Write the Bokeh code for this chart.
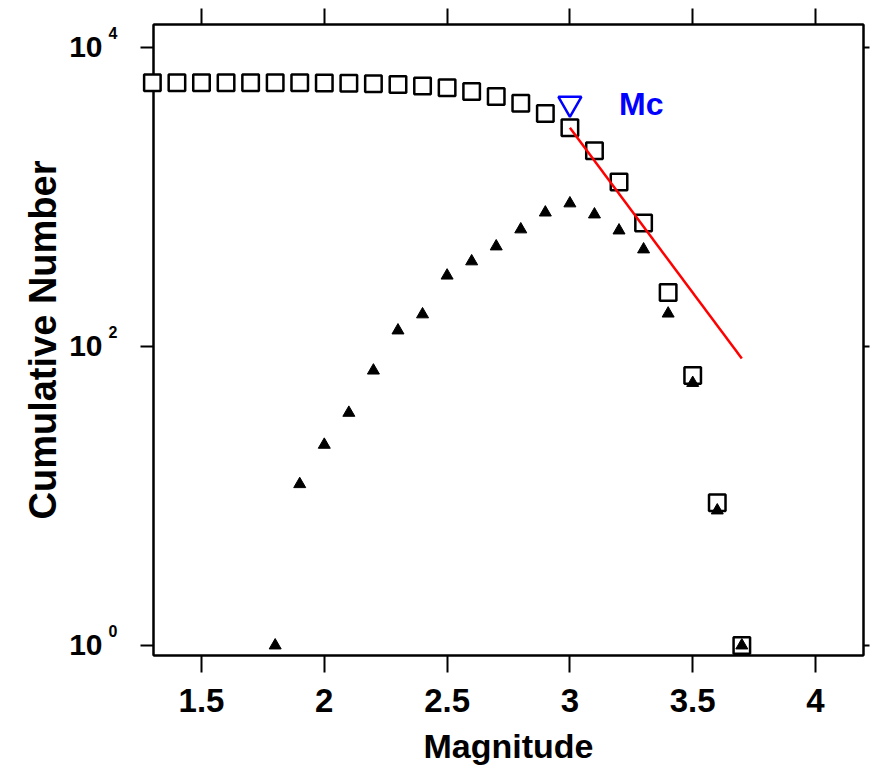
import math
from bokeh.plotting import figure
from bokeh.models import (LinearAxis, LogAxis, FixedTicker,
                          CustomLabelingPolicy)
from bokeh.core.properties import value
from bokeh.embed import file_html
from bokeh.resources import INLINE

# ---- data ----
magnitude = [1.3, 1.4, 1.5, 1.6, 1.7, 1.8, 1.9, 2.0, 2.1, 2.2, 2.3, 2.4, 2.5,
             2.6, 2.7, 2.8, 2.9, 3.0, 3.1, 3.2, 3.3, 3.4, 3.5, 3.6, 3.7]
cumulative = [5800, 5800, 5800, 5800, 5800, 5800, 5800, 5790, 5770, 5730, 5660,
              5530, 5370, 5070, 4700, 4230, 3620, 2900, 2040, 1260, 670, 230,
              64, 9, 1]
mag_noncum = [1.8, 1.9, 2.0, 2.1, 2.2, 2.3, 2.4, 2.5, 2.6, 2.7, 2.8, 2.9, 3.0,
              3.1, 3.2, 3.3, 3.4, 3.5, 3.6, 3.7]
noncum = [1, 12, 22, 36, 69, 128, 164, 298, 371, 467, 607, 787, 906, 764, 597,
          446, 166, 57, 8, 1]
fit_mag = [3.0, 3.7]
fit_n = [2900, 83]
mc_mag = [3.0]
mc_n = [4220]
mc_text = "Mc"
mc_text_mag = 3.2

x_ticks = [1.5, 2.0, 2.5, 3.0, 3.5, 4.0]
x_tick_labels = ["1.5", "2", "2.5", "3", "3.5", "4"]
y_ticks = [1, 100, 10000]
y_tick_base = ["10", "10", "10"]
y_tick_exponents = ["0", "2", "4"]
x_title = "Magnitude"
y_title = "Cumulative Number"

FONT = "Liberation Sans"
X0, X1 = 1.3046, 4.1954
Y0, Y1 = 0.857, 14250.0

p = figure(width=870, height=766, output_backend="svg", toolbar_location=None,
           x_range=(X0, X1), y_range=(Y0, Y1), y_axis_type="log",
           min_border_left=153, min_border_right=7, min_border_top=24,
           min_border_bottom=111, background_fill_color="white",
           border_fill_color="white")
p.xgrid.visible = False
p.ygrid.visible = False
p.outline_line_color = "black"
p.outline_line_width = 2

no_labels = CustomLabelingPolicy(
    code="for (let i = 0; i < indices.size; i++) { indices.unset(i) }\nreturn indices")

def style_axis(ax, tick_out):
    ax.axis_line_color = "black"
    ax.axis_line_width = 2
    ax.major_tick_line_color = "black"
    ax.major_tick_line_width = 2
    ax.major_tick_in = 0
    ax.major_tick_out = tick_out
    ax.minor_tick_in = 0
    ax.minor_tick_out = 0
    ax.minor_tick_line_color = None

def ticks_only(ax, ticks):
    ax.major_label_overrides = {t: "" for t in ticks}
    ax.major_label_text_font_size = "1px"
    ax.major_label_standoff = 0
    ax.major_label_policy = no_labels

# bottom axis
xa = p.xaxis[0]
xa.ticker = FixedTicker(ticks=x_ticks, minor_ticks=[])
xa.major_label_overrides = dict(zip(x_ticks, x_tick_labels))
style_axis(xa, 17)
xa.major_label_text_font = FONT
xa.major_label_text_font_size = "33px"
xa.major_label_text_font_style = "bold"
xa.major_label_text_color = "black"
xa.major_label_standoff = 16

# left axis (ticks only; labels drawn as text glyphs)
ya = p.yaxis[0]
ya.ticker = FixedTicker(ticks=y_ticks, minor_ticks=[])
style_axis(ya, 13)
ticks_only(ya, y_ticks)

# top and right axes (ticks only)
ta = LinearAxis(ticker=FixedTicker(ticks=x_ticks, minor_ticks=[]))
style_axis(ta, 16)
ticks_only(ta, x_ticks)
p.add_layout(ta, "above")

ra = LogAxis(ticker=FixedTicker(ticks=y_ticks, minor_ticks=[]))
style_axis(ra, 6)
ticks_only(ra, y_ticks)
p.add_layout(ra, "right")

def add_text(xs, ys, texts, size, color="black", **kw):
    r = p.text(x=xs, y=ys, text=texts, text_font=value(FONT),
               text_font_size=value(size), text_font_style="bold",
               text_color=color, text_baseline="middle", **kw)
    r.level = "overlay"
    return r

# y tick labels as 10^k
add_text([X0] * len(y_ticks), y_ticks, y_tick_base, "30px", x_offset=-51,
         text_align="right")
add_text([X0] * len(y_ticks), y_ticks, y_tick_exponents, "16px", x_offset=-45,
         y_offset=-14, text_align="left")

# axis titles
add_text([(X0 + X1) / 2], [Y0], [x_title], "34px", y_offset=90,
         text_align="center")
add_text([X0], [math.sqrt(Y0 * Y1)], [y_title], "38px", x_offset=-111,
         angle=math.pi / 2, text_align="center")

# data
sq = p.scatter(magnitude, cumulative, marker="square", size=16.5,
               fill_color="white", line_color="black", line_width=2.5)
sq.level = "overlay"
tr = p.scatter(mag_noncum, noncum, marker="triangle", size=12,
               fill_color="black", line_color="black", line_width=1)
tr.level = "overlay"
ln = p.line(fit_mag, fit_n, line_color="#FF0000", line_width=2.5)
ln.level = "overlay"
mc = p.scatter(mc_mag, mc_n, marker="inverted_triangle", size=23,
               fill_color=None, line_color="#0000FF", line_width=2.5)
mc.level = "overlay"

add_text([mc_text_mag], mc_n, [mc_text], "32px", color="#0000FF",
         text_align="left")

open("out.html", "w").write(file_html(p, INLINE))
